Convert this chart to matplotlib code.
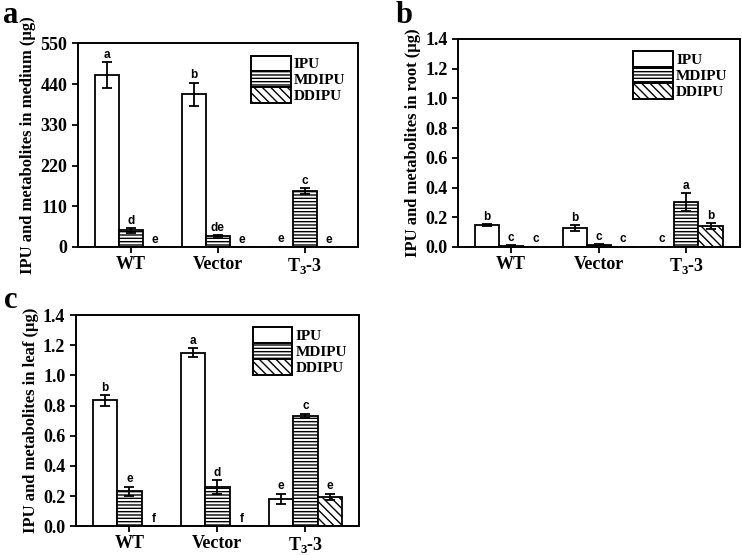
import matplotlib.pyplot as plt
import matplotlib as mpl
import numpy as np

groups = ["WT", "Vector", r"T$_\mathregular{3}$-3"]
series = ["IPU", "MDIPU", "DDIPU"]
hatches = ["", "-----", "\\\\\\\\"]

# panel a: medium
medium_mean = [[465, 412, 1], [45, 30, 150], [0, 0, 0]]
medium_err = [[35, 32, 0], [6, 3, 8], [0, 0, 0]]
medium_sig = [["a", "b", "e"], ["d", "de", "c"], ["e", "e", "e"]]

# panel b: root
root_mean = [[0.145, 0.125, 0.0], [0.005, 0.01, 0.30], [0.0, 0.0, 0.14]]
root_err = [[0.007, 0.02, 0.0], [0.005, 0.008, 0.06], [0.0, 0.0, 0.02]]
root_sig = [["b", "b", "c"], ["c", "c", "a"], ["c", "c", "b"]]

# panel c: leaf
leaf_mean = [[0.835, 1.15, 0.18], [0.23, 0.26, 0.73], [0.0, 0.0, 0.195]]
leaf_err = [[0.035, 0.03, 0.035], [0.03, 0.045, 0.015], [0.0, 0.0, 0.02]]
leaf_sig = [["b", "a", "e"], ["e", "d", "c"], ["f", "f", "e"]]

mpl.rcParams['font.family'] = ['Liberation Serif', 'DejaVu Serif']
mpl.rcParams['font.weight'] = 'bold'
mpl.rcParams['hatch.linewidth'] = 1.0
mpl.rcParams['axes.linewidth'] = 1.4


def draw_panel(ax, means, errs, sigs, ymax, yticks, ylabel, offset):
    x = np.arange(len(groups))
    w = 0.276
    for i, name in enumerate(series):
        pos = x + (i - 1) * w
        ax.bar(pos, means[i], w, color='white', edgecolor='black',
               linewidth=1.3, hatch=hatches[i], label=name)
        ax.errorbar(pos, means[i], yerr=errs[i], fmt='none', ecolor='black',
                    elinewidth=1.3, capsize=3.5, capthick=1.3)
        for p, m, e, s in zip(pos, means[i], errs[i], sigs[i]):
            ax.text(p, m + e + offset, s, ha='center', va='bottom',
                    fontsize=8.5, family='Liberation Sans', fontweight='bold')
    ax.set_xlim(-0.61, 2.61)
    ax.set_ylim(0, ymax)
    ax.set_yticks(yticks)
    ax.set_xticks(x)
    ax.set_xticklabels(groups, fontsize=13, fontweight='bold')
    ax.tick_params(axis='y', labelsize=13, width=1.3, length=4, direction='out')
    ax.tick_params(axis='x', width=1.3, length=4, direction='out', pad=2.5)
    for lab in ax.get_yticklabels():
        lab.set_fontweight('bold')
    ax.set_ylabel(ylabel, fontsize=12, fontweight='bold', labelpad=3)
    leg = ax.legend(loc='upper right', frameon=False, fontsize=11,
                    handlelength=2.6, handleheight=1.2, labelspacing=0.0,
                    handletextpad=0.2, borderaxespad=0.5, borderpad=0.3)
    for h in leg.legend_handles:
        h.set_linewidth(1.4)


fig = plt.figure(figsize=(7.42, 5.55), dpi=100)
ax_a = fig.add_axes([0.105, 0.555, 0.377, 0.367])
ax_b = fig.add_axes([0.617, 0.555, 0.380, 0.375])
ax_c = fig.add_axes([0.102, 0.052, 0.382, 0.380])

draw_panel(ax_a, medium_mean, medium_err, medium_sig, 550,
           [0, 110, 220, 330, 440, 550],
           "IPU and metabolites in medium (μg)", 3)
draw_panel(ax_b, root_mean, root_err, root_sig, 1.4,
           np.arange(0, 1.41, 0.2),
           "IPU and metabolites in root (μg)", 0.01)
draw_panel(ax_c, leaf_mean, leaf_err, leaf_sig, 1.4,
           np.arange(0, 1.41, 0.2),
           "IPU and metabolites in leaf (μg)", 0.01)

for ax in (ax_b, ax_c):
    ax.set_yticklabels([f"{v:.1f}" for v in np.arange(0, 1.41, 0.2)],
                       fontweight='bold')

# panel letters
fig.text(0.004, 0.998, "a", fontsize=22, fontweight='bold', va='top')
fig.text(0.533, 0.998, "b", fontsize=22, fontweight='bold', va='top')
fig.text(0.006, 0.485, "c", fontsize=22, fontweight='bold', va='top')

plt.savefig("out.png", dpi=100)
